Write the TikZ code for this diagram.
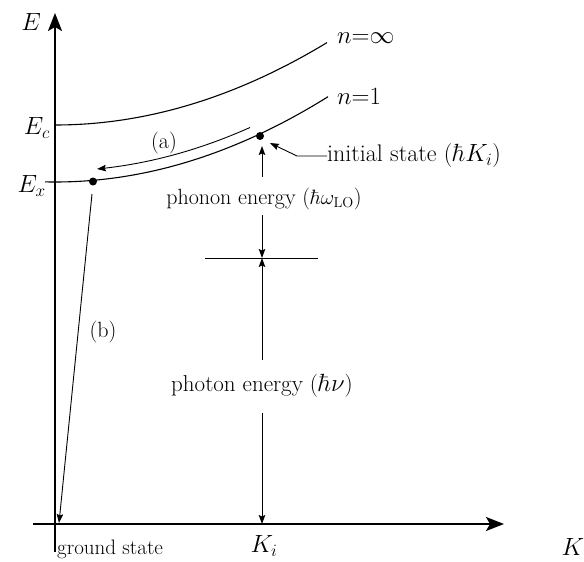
\documentclass[tikz,border=0pt]{standalone}
\usetikzlibrary{arrows.meta}
\begin{document}
\begin{tikzpicture}[x=1pt,y=-1pt,
  axis/.style={line width=1.8pt,-{Stealth[length=18pt,width=14pt,inset=4pt]}},
  curve/.style={line width=1.1pt},
  thin/.style={line width=0.9pt},
  arr/.style={line width=0.9pt,-{Stealth[length=9pt,width=6.5pt,inset=1.5pt]}},
  lab/.style={font=\fontsize{22}{24}\selectfont,inner sep=0pt},
  mlab/.style={font=\fontsize{23}{25}\selectfont,inner sep=0pt},
  blab/.style={font=\fontsize{24}{26}\selectfont,inner sep=0pt},
  slab/.style={font=\fontsize{21}{23}\selectfont,inner sep=0pt},
  dotst/.style={circle,fill=black,inner sep=0pt,minimum size=8pt}]
\useasboundingbox (0,0) rectangle (584,562);
% axes
\coordinate (ytop) at (55,13);
\coordinate (ybot) at (55,552);
\coordinate (xl) at (33,524);
\coordinate (xr) at (504,524);
\draw[axis] (ybot) -- (ytop);
\draw[axis] (xl) -- (xr);
\node[blab] (E) at (31,22) {$E$};
\node[blab] (K) at (573,547) {$K$};
% dispersion curves
\draw[curve] plot[domain=55:327,samples=60] (\x,{125-0.00112*(\x-55)*(\x-55)});
\draw[curve] plot[domain=45:328,samples=60] (\x,{182-0.00114*(\x-55)*(\x-55)});
\node[blab,anchor=east] (Ec) at (50,128) {$E_c$};
\node[blab,anchor=east] (Ex) at (46,186) {$E_x$};
\node[blab,anchor=west] (ninf) at (337,38) {$n{=}\infty$};
\node[blab,anchor=west] (n1) at (337,96) {$n{=}1$};
% states
\node[dotst] (gdot) at (93,181.5) {};
\node[dotst] (idot) at (260,136) {};
% (a) arrow
\draw[arr] plot[domain=250:97,samples=60] (\x,{171-0.00114*(\x-55)*(\x-55)});
\node[lab] (a) at (164,143) {(a)};
% (b) arrow
\coordinate (bstart) at (92,194);
\coordinate (bend) at (59,523);
\draw[arr] (bstart) -- (bend);
\node[lab] (b) at (103,332) {(b)};
% initial state label
\node[blab,anchor=west] (init) at (327,156) {initial state ($\hbar K_i$)};
\coordinate (ibend) at (297,156);
\draw[arr] (init.west) -- (ibend) -- (270,143);
% phonon
\node[lab] (phonon) at (264,199) {phonon energy ($\hbar\omega_{\mathrm{LO}}$)};
\coordinate (phup) at (262,177);
\coordinate (phtip) at (262,146);
\draw[arr] (phup) -- (phtip);
\coordinate (level) at (262,258);
\coordinate (levl) at (205,258);
\coordinate (levr) at (318,258);
\draw[thin] (levl) -- (levr);
\draw[arr] (262,215) -- (level);
% photon
\node[mlab] (photon) at (262,386) {photon energy ($\hbar\nu$)};
\draw[arr] (262,360) -- (level);
\coordinate (kaxis) at (262,524);
\draw[arr] (262,413) -- (kaxis);
\node[blab] (Ki) at (264,546) {$K_i$};
\node[slab,anchor=west] (gs) at (57,549) {ground state};
\end{tikzpicture}
\end{document}
